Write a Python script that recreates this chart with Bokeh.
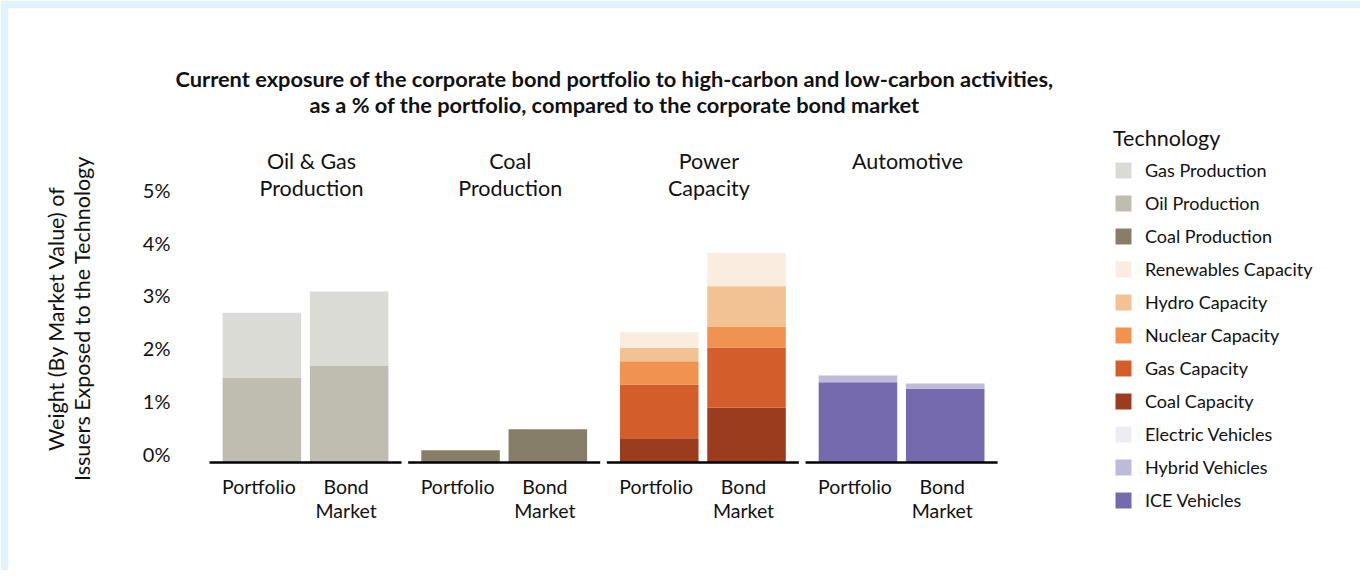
from bokeh.plotting import figure
from bokeh.models import Range1d, Legend, LegendItem
from bokeh.core.properties import value
from bokeh.embed import file_html
from bokeh.resources import INLINE
import math

# ---------------- data ----------------
title_lines = ["Current exposure of the corporate bond portfolio to high-carbon and low-carbon activities,",
               "as a % of the portfolio, compared to the corporate bond market"]
sectors = ["Oil & Gas Production", "Coal Production", "Power Capacity", "Automotive"]
sector_header = [["Oil & Gas", "Production"], ["Coal", "Production"], ["Power", "Capacity"], ["Automotive"]]
bar_labels = [["Portfolio"], ["Bond", "Market"]]
y_ticks = [0, 1, 2, 3, 4, 5]
y_tick_labels = ["0%", "1%", "2%", "3%", "4%", "5%"]
y_title = ["Weight (By Market Value) of", "Issuers Exposed to the Technology"]
legend_title = "Technology"

# legend order (top to bottom); stacking is bottom-up in reverse order within each sector
technologies = ["Gas Production", "Oil Production", "Coal Production",
                "Renewables Capacity", "Hydro Capacity", "Nuclear Capacity", "Gas Capacity", "Coal Capacity",
                "Electric Vehicles", "Hybrid Vehicles", "ICE Vehicles"]
tech_sector = ["Oil & Gas Production", "Oil & Gas Production", "Coal Production",
               "Power Capacity", "Power Capacity", "Power Capacity", "Power Capacity", "Power Capacity",
               "Automotive", "Automotive", "Automotive"]
portfolio = [1.23, 1.61, 0.23, 0.30, 0.25, 0.44, 1.02, 0.46, 0.00, 0.13, 1.52]
bond_market = [1.40, 1.84, 0.63, 0.63, 0.76, 0.40, 1.14, 1.04, 0.00, 0.10, 1.40]
tech_colors = ["#dadbd5", "#bfbdb0", "#877e6a",
               "#faecdf", "#f2c292", "#f09250", "#d45e2b", "#9b3c1c",
               "#eeecf3", "#bcbbd9", "#756bac"]

# ---------------- layout constants ----------------
W, H = 1360, 570            # whole figure (page has no body margin)
BORDER = 8                  # light-blue band on top and left
FW, FH = W - BORDER, H - BORDER
PX_X = 87.27          # px per x unit
PX_Y = 52.74          # px per 1 %
FACET_STEP = 2.2768   # x units between facets
PAGE_X0, PAGE_Y0 = BORDER, BORDER
ZERO_PX_X = 209 - PAGE_X0   # frame px of facet-0 left edge (x=0.4)
ZERO_PX_Y = 462 - PAGE_Y0   # frame px (from top) of y=0

x_start = 0.4 - ZERO_PX_X / PX_X
x_end = x_start + FW / PX_X
y_end = ZERO_PX_Y / PX_Y
y_start = y_end - FH / PX_Y

def dx(page_x):
    return x_start + (page_x - PAGE_X0) / PX_X

def dy(page_y):
    return y_end - (page_y - PAGE_Y0) / PX_Y

FONT_NAME = "Lato"
FONT = value(FONT_NAME)
TXT = "#111111"

p = figure(frame_width=FW, frame_height=FH, output_backend="svg", toolbar_location=None,
           x_range=Range1d(x_start, x_end), y_range=Range1d(y_start, y_end),
           x_axis_location=None, y_axis_location=None,
           min_border=0, min_border_left=BORDER, min_border_right=0,
           min_border_top=BORDER, min_border_bottom=0)
p.outline_line_color = None
p.xgrid.visible = False
p.ygrid.visible = False
p.background_fill_color = "white"
p.border_fill_color = "#e0f2fa"

# ---------------- bars ----------------
facet_offset = {s: i * FACET_STEP for i, s in enumerate(sectors)}
bottoms = {s: [0.0, 0.0] for s in sectors}
stack_data = {}
for i in reversed(range(len(technologies))):
    s = tech_sector[i]
    b = bottoms[s]
    vals = [portfolio[i], bond_market[i]]
    tops = [b[0] + vals[0], b[1] + vals[1]]
    stack_data[i] = (list(b), tops)
    bottoms[s] = tops

renderers = {}
for i in reversed(range(len(technologies))):
    s = tech_sector[i]
    off = facet_offset[s]
    b, t = stack_data[i]
    r = p.vbar(x=[off + 1, off + 2], bottom=b, top=t, width=0.9,
               fill_color=tech_colors[i], line_color=None)
    renderers[i] = r

# facet baselines
for s in sectors:
    off = facet_offset[s]
    p.segment(x0=[off + 0.4], y0=[0], x1=[off + 2.6], y1=[0], line_color="black", line_width=2.6)

# ---------------- texts ----------------
# title
for k, line in enumerate(title_lines):
    p.text(x=[dx(614)], y=[dy(78 + 26 * k)], text=[line], text_font=FONT, text_font_style="bold",
           text_font_size="21.8px", text_align="center", text_baseline="middle", text_color=TXT)

# facet headers
for s, lines in zip(sectors, sector_header):
    off = facet_offset[s]
    for k, line in enumerate(lines):
        p.text(x=[off + 1.5], y=[dy(160 + 27 * k)], text=[line], x_offset=6, text_font=FONT,
               text_font_size="21.5px", text_align="center", text_baseline="middle", text_color=TXT)

# bar labels
for s in sectors:
    off = facet_offset[s]
    for j, lines in enumerate(bar_labels):
        for k, line in enumerate(lines):
            p.text(x=[off + 1 + j], y=[0], text=[line], x_offset=-3, y_offset=24 + 24 * k,
                   text_font=FONT, text_font_size="19.5px", text_align="center",
                   text_baseline="middle", text_color=TXT)

# y tick labels
p.text(x=[0.4] * len(y_ticks), y=y_ticks, text=y_tick_labels, x_offset=-39, y_offset=-9,
       text_font=FONT, text_font_size="20px", text_align="right", text_baseline="middle",
       text_color=TXT)

# y axis title
for k, line in enumerate(y_title):
    p.text(x=[dx(55 + 26 * k)], y=[dy(318)], text=[line], angle=math.pi / 2,
           text_font=FONT, text_font_size="21.5px", text_align="center", text_baseline="middle",
           text_color=TXT)

# ---------------- legend ----------------
items = [LegendItem(label=technologies[i], renderers=[renderers[i]]) for i in range(len(technologies))]
legend = Legend(items=items, location=(1105, 59), title=legend_title,
                title_text_font=FONT_NAME, title_text_font_size="21.5px", title_text_font_style="normal",
                title_text_color=TXT, title_standoff=8,
                label_text_font=FONT_NAME, label_text_font_size="18px", label_text_color=TXT,
                glyph_width=20, glyph_height=20, label_height=20, label_standoff=12,
                spacing=11, padding=0, margin=0,
                border_line_color=None, background_fill_alpha=0)
p.add_layout(legend, "center")

open("out.html", "w").write(file_html(p, INLINE))
